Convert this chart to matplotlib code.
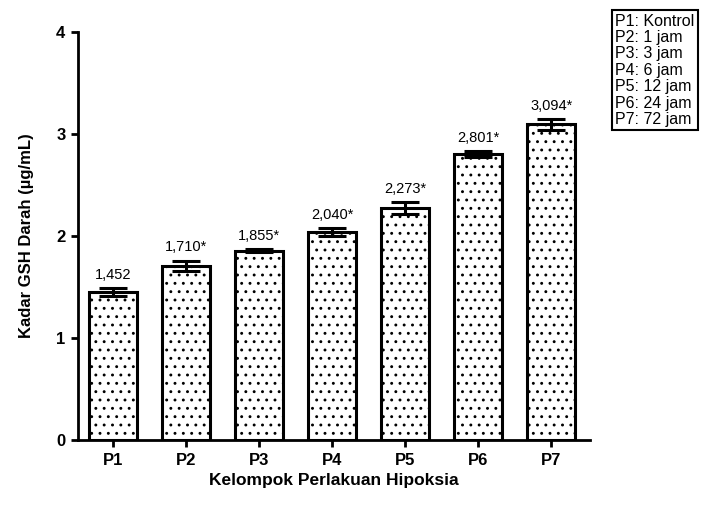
import matplotlib
matplotlib.use("Agg")
import matplotlib.pyplot as plt

plt.rcParams["font.family"] = ["Liberation Sans", "DejaVu Sans"]
plt.rcParams["hatch.linewidth"] = 0.9

# ── Data ──────────────────────────────────────────────────────────────────────
groups = ["P1", "P2", "P3", "P4", "P5", "P6", "P7"]
means = [1.452, 1.710, 1.855, 2.040, 2.273, 2.801, 3.094]
errors = [0.04, 0.05, 0.015, 0.035, 0.06, 0.03, 0.05]
labels = ["1,452", "1,710*", "1,855*", "2,040*", "2,273*", "2,801*", "3,094*"]
legend_lines = ["P1: Kontrol", "P2: 1 jam", "P3: 3 jam", "P4: 6 jam",
                "P5: 12 jam", "P6: 24 jam", "P7: 72 jam"]

# ── Figure ────────────────────────────────────────────────────────────────────
fig = plt.figure(figsize=(7.24, 5.2), dpi=100)
ax = fig.add_axes([0.1077, 0.1538, 0.7073, 0.7846])

x = list(range(len(groups)))
ax.bar(x, means, width=0.66, color="white", edgecolor="black",
       linewidth=2.2, hatch="..", zorder=2)
ax.errorbar(x, means, yerr=errors, fmt="none", ecolor="black",
            elinewidth=2.2, capsize=10, capthick=2.2, zorder=3)

for xi, m, e, lab in zip(x, means, errors, labels):
    ax.text(xi, m + e + 0.06, lab, ha="center", va="bottom", fontsize=10.5)

ax.set_xlim(-0.48, 6.53)
ax.set_ylim(0, 4)
ax.set_yticks([0, 1, 2, 3, 4])
ax.set_xticks(x)
ax.set_xticklabels(groups)
for t in ax.get_xticklabels() + ax.get_yticklabels():
    t.set_fontweight("bold")
    t.set_fontsize(12)
ax.tick_params(direction="out", width=2, length=5, pad=4)

ax.spines[["top", "right"]].set_visible(False)
ax.spines[["left", "bottom"]].set_linewidth(2)

ax.set_xlabel("Kelompok Perlakuan Hipoksia", fontsize=12.5, fontweight="bold", labelpad=4)
ax.set_ylabel("Kadar GSH Darah (µg/mL)", fontsize=12, fontweight="bold", labelpad=16)

# Legend box listing the group meanings
fig.text(0.850, 0.974, "\n".join(legend_lines), ha="left", va="top",
         fontsize=11.5, linespacing=1.12,
         bbox=dict(boxstyle="square,pad=0.2", facecolor="white",
                   edgecolor="black", linewidth=1.5))

fig.savefig("out.png", dpi=100)
